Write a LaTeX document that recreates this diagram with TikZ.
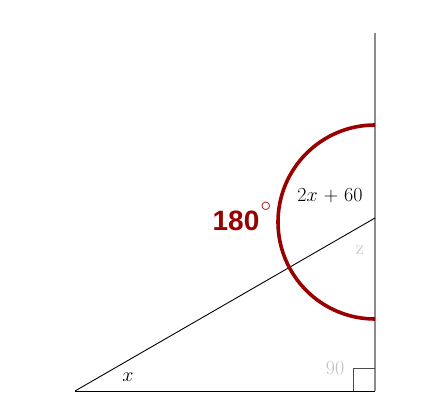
\documentclass[tikz,border=0pt]{standalone}
\usepackage{fontspec}
\usepackage{fix-cm}
\newfontfamily\boldsans{Liberation Sans}
\definecolor{arcred}{HTML}{990000}
\definecolor{vgray}{HTML}{8C8C8C}
\definecolor{lgray}{HTML}{C0C0C0}
\begin{document}
\begin{tikzpicture}[x=1pt,y=-1pt,
  lbl/.style={inner sep=0pt,font=\fontsize{20}{24}\selectfont},
  faint/.style={lbl,text=lgray}]
\useasboundingbox (0,0) rectangle (429,417);
\coordinate (A) at (75,391);
\coordinate (B) at (375,391);
\coordinate (T) at (375,33);
\coordinate (C) at (375,218);
\draw[vgray,line width=1.2pt] (T) -- (B);
\draw[black,line width=1pt] (A) -- (B);
\draw[black,line width=0.9pt] (A) -- (C);
\draw[black!70,line width=1pt] (353,391) -- (353,368) -- (375,368);
\draw[arcred,line width=3.6pt] (375,125) arc[start angle=270,end angle=90,radius=97];
\node[lbl] (l2x) at (330,196) {$2x$ + 60};
\node[font=\boldsans\bfseries\fontsize{28}{32}\selectfont,text=arcred,inner sep=0pt] (l180) at (236,221) {180};
\node[inner sep=0pt,text=arcred,font=\fontsize{30}{34}\selectfont] (ldeg) at (266,212) {$^\circ$};
\node[faint] (lz) at (360,250) {z};
\node[faint] (l90) at (335,368) {90};
\node[lbl] (lx) at (128,377) {$x$};
\end{tikzpicture}
\end{document}
